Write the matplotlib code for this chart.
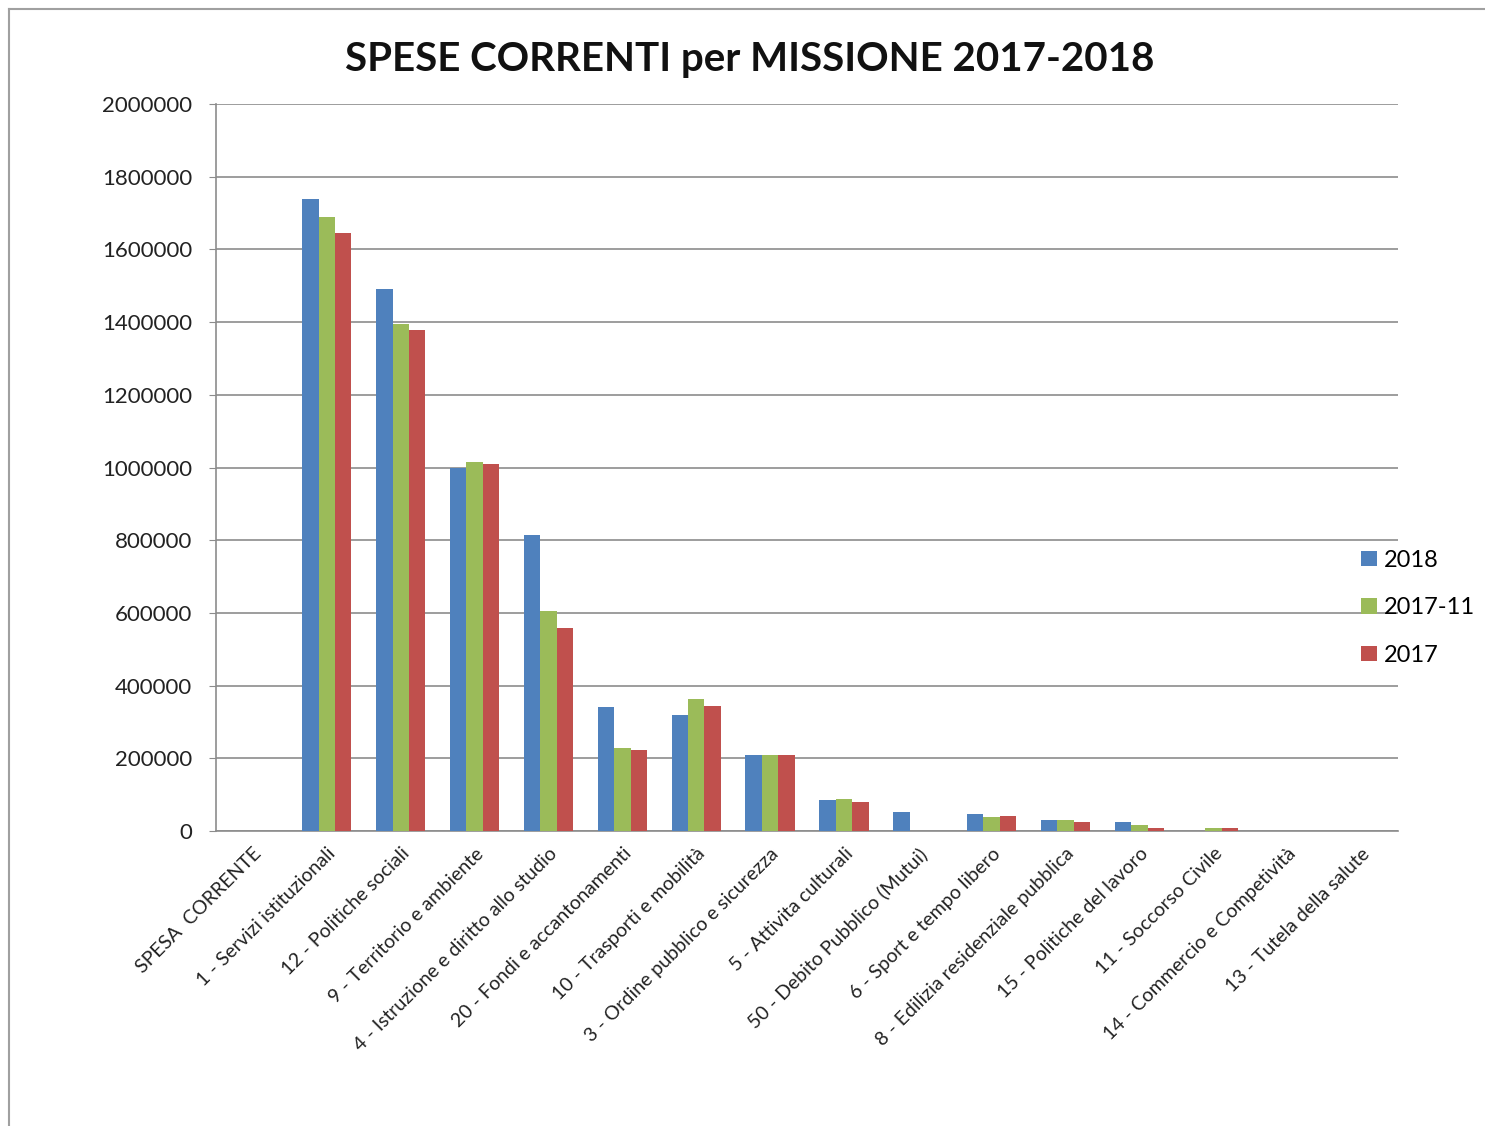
import numpy as np
import matplotlib
matplotlib.use("Agg")
from matplotlib import pyplot as plt
from matplotlib.lines import Line2D

categories = [
    "SPESA  CORRENTE",
    "1 - Servizi istituzionali",
    "12 - Politiche sociali",
    "9 - Territorio e ambiente",
    "4 - Istruzione e diritto allo studio",
    "20 - Fondi e accantonamenti",
    "10 - Trasporti e mobilità",
    "3 - Ordine pubblico e sicurezza",
    "5 - Attivita culturali",
    "50 - Debito Pubblico (Mutui)",
    "6 - Sport e tempo libero",
    "8 - Edilizia residenziale pubblica",
    "15 - Politiche del lavoro",
    "11 - Soccorso Civile",
    "14 - Commercio e Competività",
    "13 - Tutela della salute",
]

spese_2018 = [0, 1740000, 1491000, 1000000, 813000, 341500, 320000, 209000,
              85000, 51000, 48000, 30000, 26000, 0, 0, 0]
spese_2017_11 = [0, 1690000, 1395000, 1014000, 605500, 227500, 363500, 209000,
                 89000, 0, 38500, 29500, 17000, 8000, 0, 0]
spese_2017 = [0, 1644000, 1377000, 1009000, 559500, 222000, 345000, 209000,
              81000, 0, 40000, 26000, 9000, 9000, 0, 0]

series = [("2018", spese_2018, "#4F81BD"),
          ("2017-11", spese_2017_11, "#9BBB59"),
          ("2017", spese_2017, "#C0504D")]

font = "Lato"
plt.rcParams["font.family"] = [font, "DejaVu Sans"]

fig = plt.figure(figsize=(14.85, 11.26), dpi=100)
ax = fig.add_axes([0.1455, 0.262, 0.7959, 0.6456])

x = np.arange(len(categories))
width = 0.222
for i, (name, vals, col) in enumerate(series):
    ax.bar(x + (i - 1) * width, vals, width, color=col, label=name, zorder=3)

ax.set_xlim(-0.5, len(categories) - 0.5)
ax.set_ylim(0, 2000000)
ax.set_yticks(np.arange(0, 2000001, 200000))
ax.set_yticklabels([str(v) for v in range(0, 2000001, 200000)], fontsize=16)
ax.grid(axis="y", color="#8c8c8c", lw=1.2, zorder=0)
for s in ["top", "right"]:
    ax.spines[s].set_visible(False)
ax.spines["left"].set_color("#8c8c8c")
ax.spines["bottom"].set_color("#8c8c8c")
ax.spines["left"].set_linewidth(1.2)
ax.spines["bottom"].set_linewidth(1.2)
ax.tick_params(axis="y", length=5, color="#8c8c8c", pad=12, labelcolor="#222222")
ax.tick_params(axis="x", length=0, pad=10)

ax.set_xticks(x)
ax.set_xticklabels(categories, rotation=45, ha="right", rotation_mode="anchor",
                   fontsize=14, color="#222222")

fig.text(0.505, 0.947, "SPESE CORRENTI per MISSIONE 2017-2018", ha="center",
         va="center", fontsize=29, fontweight="bold", color="#111111")

leg = ax.legend(loc="center left", bbox_to_anchor=(0.969, 0.307), frameon=False,
                fontsize=17, handlelength=0.65, handleheight=0.65, handletextpad=0.3,
                labelspacing=1.12, borderpad=0, borderaxespad=0)

# chart frame (cropped at right/bottom)
fig.add_artist(Line2D([0.006, 0.006], [0, 0.992], color="#a0a0a0", lw=1.5))
fig.add_artist(Line2D([0.006, 1], [0.992, 0.992], color="#a0a0a0", lw=1.5))

fig.savefig("out.png", dpi=100, facecolor="white")
